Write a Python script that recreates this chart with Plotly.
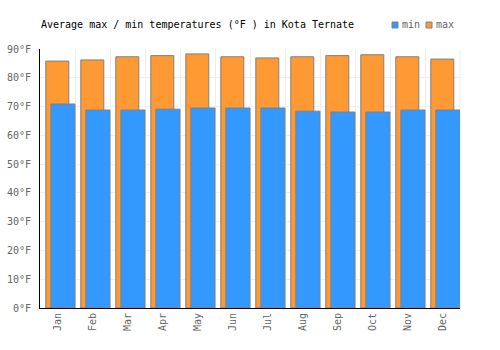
import plotly.graph_objects as go

months = ["Jan", "Feb", "Mar", "Apr", "May", "Jun", "Jul", "Aug", "Sep", "Oct", "Nov", "Dec"]
max_f = [85.8, 86.2, 87.3, 87.7, 88.3, 87.3, 86.9, 87.3, 87.7, 88.0, 87.3, 86.5]
min_f = [70.9, 68.8, 68.8, 69.1, 69.5, 69.5, 69.5, 68.4, 68.1, 68.1, 68.8, 68.8]
y_ticks = [0, 10, 20, 30, 40, 50, 60, 70, 80, 90]
y_labels = [f"{v}°F" for v in y_ticks]

ORANGE = "#FF9933"
BLUE = "#3399FF"
EDGE = "#808080"
FONT = "DejaVu Sans Mono"

fig = go.Figure()
fig.add_trace(go.Bar(x=months, y=max_f, name="max", marker=dict(color=ORANGE, line=dict(color=EDGE, width=1)),
                     width=0.657, offset=-0.334, showlegend=False))
fig.add_trace(go.Bar(x=months, y=min_f, name="min", marker=dict(color=BLUE, line=dict(color=EDGE, width=1)),
                     width=0.69, offset=-0.19, showlegend=False))

L, R, T, B = 40, 40, 49, 42
W, H = 500, 350
pw, ph = W - L - R, H - T - B

def px(x):
    return (x - L) / pw

def py(y):
    return (H - B - y) / ph

fig.update_layout(
    width=W, height=H, barmode="overlay",
    margin=dict(l=L, r=R, t=T, b=B, pad=0),
    paper_bgcolor="white", plot_bgcolor="white",
    font=dict(family=FONT, size=10, color="#666666"),
    showlegend=False,
    xaxis=dict(type="category", tickson="boundaries", showgrid=True, gridcolor="#eeeeee", gridwidth=1,
               showline=True, linecolor="black", linewidth=1, tickangle=-90, ticks="outside",
               ticklen=7, tickcolor="rgba(0,0,0,0)", range=[-0.5, 11.5], mirror=False, automargin=False),
    yaxis=dict(range=[0, 90], tickvals=y_ticks, ticktext=y_labels, showgrid=True, gridcolor="#eeeeee",
               gridwidth=1, showline=True, linecolor="black", linewidth=1, zeroline=False,
               ticks="outside", ticklen=6, tickcolor="rgba(0,0,0,0)", automargin=False),
    shapes=[
        dict(type="line", xref="paper", yref="paper", x0=1, x1=1, y0=0, y1=1, line=dict(color="#eeeeee", width=1), layer="below"),
        dict(type="rect", xref="paper", yref="paper", x0=px(392), x1=px(398), y0=py(28), y1=py(22),
             fillcolor=BLUE, line=dict(color=EDGE, width=1)),
        dict(type="rect", xref="paper", yref="paper", x0=px(426), x1=px(432), y0=py(28), y1=py(22),
             fillcolor=ORANGE, line=dict(color=EDGE, width=1)),
    ],
    annotations=[
        dict(text="Average max / min temperatures (°F ) in Kota Ternate", xref="paper", yref="paper",
             x=px(39), y=py(25), xanchor="left", yanchor="middle", showarrow=False,
             font=dict(family=FONT, size=10, color="black")),
        dict(text="min", xref="paper", yref="paper", x=px(400), y=py(25), xanchor="left", yanchor="middle",
             showarrow=False, font=dict(family=FONT, size=10, color="#666666")),
        dict(text="max", xref="paper", yref="paper", x=px(434), y=py(25), xanchor="left", yanchor="middle",
             showarrow=False, font=dict(family=FONT, size=10, color="#666666")),
    ],
)

fig.write_html("out.html")
